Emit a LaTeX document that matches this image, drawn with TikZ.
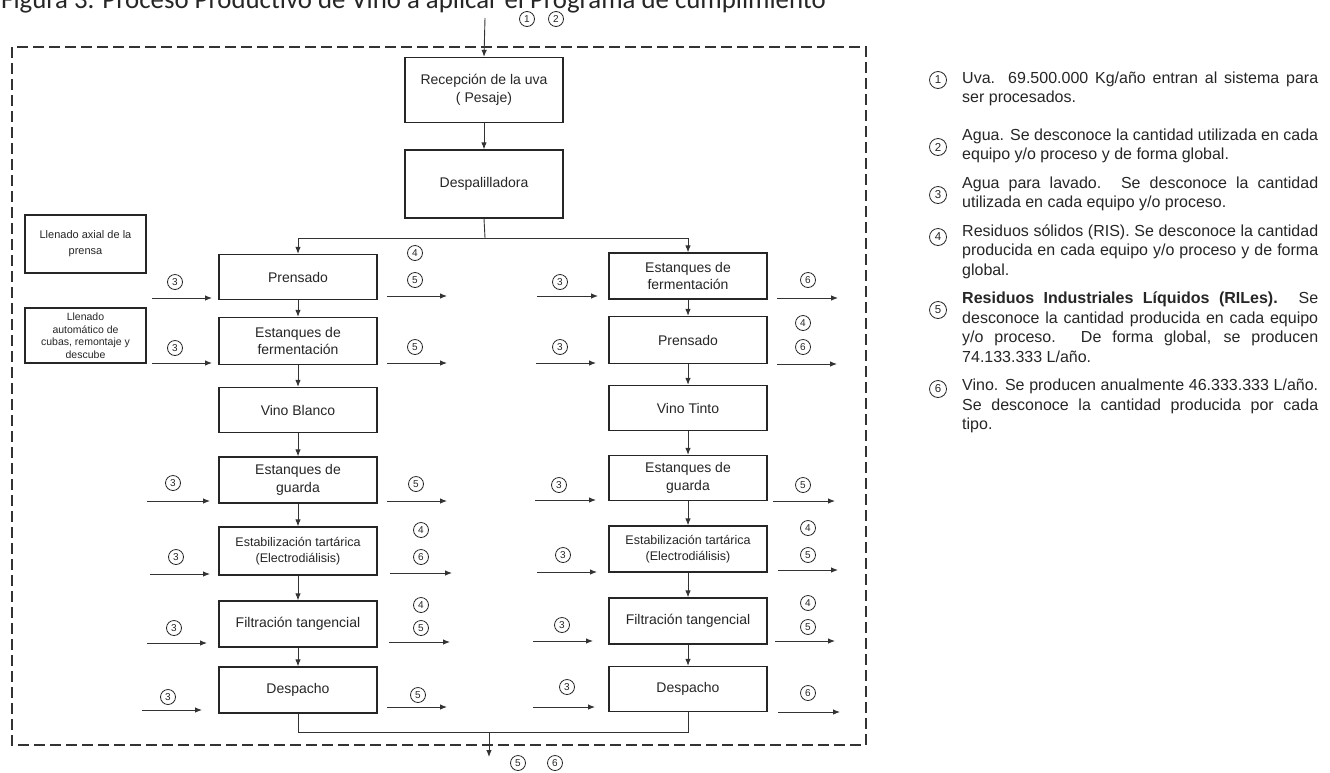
\documentclass[tikz,border=0pt]{standalone}
\usepackage{fontspec}
\setmainfont{Liberation Sans}
\newfontfamily\titlefont{Carlito}
\usetikzlibrary{arrows.meta}
\begin{document}
\begin{tikzpicture}[x=1pt,y=-1pt,
  box/.style={draw=black!85,line width=1.3pt,minimum width=158pt,align=center,inner sep=2pt,font=\fontsize{14}{17.5}\selectfont,text=black!85},
  sidebox/.style={draw=black!85,line width=1.3pt,minimum width=121pt,align=center,inner sep=2pt,text=black!85},
  num/.style={circle,draw=black!85,line width=0.8pt,inner sep=0pt,minimum size=15pt,font=\fontsize{10}{10}\selectfont,text=black!85},
  lnum/.style={num,minimum size=17pt,font=\fontsize{11.5}{12}\selectfont},
  flow/.style={draw=black!80,line width=0.9pt},
  arr/.style={flow,-{Latex[length=7pt,width=5.5pt]}},
  leg/.style={anchor=north west,inner sep=0pt,text width=356pt,align=justify,font=\fontsize{16}{19.5}\selectfont,text=black!85},
]
\useasboundingbox[fill=white] (0,0) rectangle (1330,772);

% title (cut at the top in the reference)
\node[anchor=base west,inner sep=0pt,font=\titlefont\fontsize{26.8}{27}\selectfont,text=black!85] (title) at (1,8) {Figura 3. Proceso Productivo de Vino a aplicar el Programa de cumplimiento};

% dashed system boundary
\draw[black!80,line width=1.3pt,dash pattern=on 11pt off 5pt] (12,47) rectangle (866,745);

% main boxes
\node[box,minimum height=65pt] (rec) at (484,90) {Recepción de la uva\\( Pesaje)};
\node[box,minimum height=68pt] (desp) at (484,184) {Despalilladora};

\node[box,minimum height=45pt] (prL) at (298,277) {Prensado};
\node[box,minimum height=47pt] (feL) at (298,341) {Estanques de\\fermentación};
\node[box,minimum height=45pt] (vbL) at (298,410) {Vino Blanco};
\node[box,minimum height=46pt] (guL) at (298,480) {Estanques de\\guarda};
\node[box,minimum height=48pt,font=\fontsize{12.5}{16}\selectfont] (esL) at (298,551) {Estabilización tartárica\\(Electrodiálisis)};
\node[box,minimum height=46pt] (fiL) at (298,624) {Filtración tangencial};
\node[box,minimum height=46pt] (deL) at (298,690) {Despacho};

\node[box,minimum height=46pt] (feR) at (688,276) {Estanques de\\fermentación};
\node[box,minimum height=47pt] (prR) at (688,340) {Prensado};
\node[box,minimum height=45pt] (vtR) at (688,408) {Vino Tinto};
\node[box,minimum height=45pt] (guR) at (688,478) {Estanques de\\guarda};
\node[box,minimum height=46pt,font=\fontsize{12.5}{16}\selectfont] (esR) at (688,549) {Estabilización tartárica\\(Electrodiálisis)};
\node[box,minimum height=46pt] (fiR) at (688,621) {Filtración tangencial};
\node[box,minimum height=45pt] (deR) at (688,689) {Despacho};

% side boxes
\node[sidebox,minimum height=58pt,font=\fontsize{11}{16}\selectfont] (axL) at (85.5,244) {Llenado axial de la\\prensa};
\node[sidebox,minimum height=55pt,font=\fontsize{10.5}{12.5}\selectfont] (auL) at (85.5,335.5) {Llenado\\automático de\\cubas, remontaje y\\descube};

% main flow
\coordinate (in) at (485,18);
\draw[arr] (in) -- (rec.north);
\draw[arr] (rec) -- (desp);
\coordinate (split) at (485,238);
\draw[flow] (desp.south) -- (split);
\draw[arr] (split) -| (prL.north);
\draw[arr] (split) -| (feR.north);
\foreach \a/\b in {prL/feL,feL/vbL,vbL/guL,guL/esL,esL/fiL,fiL/deL,feR/prR,prR/vtR,vtR/guR,guR/esR,esR/fiR,fiR/deR}
  \draw[arr] (\a) -- (\b);
\coordinate (jL) at (298,732);
\coordinate (jR) at (688,732);
\draw[flow] (deL.south) -- (jL) -- (jR) -- (deR.south);
\coordinate (ob) at (489,732);
\coordinate (oe) at (489,757);
\draw[arr] (ob) -- (oe);

% side arrows (inputs and outputs)
\foreach \nm/\xa/\xb/\y in {
  iL1/152/212/298, iL2/152/212/363, iL3/147/210/501, iL4/150/210/574, iL5/147/207/643, iL6/142/202/710,
  oL1/387/447/296, oL2/387/447/363, oL3/387/447/501, oL4/390/452/573, oL5/389/450/642, oL6/387/447/707,
  iR1/537/598/296, iR2/536/596/363, iR3/535/596/500, iR4/537/597/572, iR5/533/593/641, iR6/533/595/707,
  oR1/777/838/298, oR2/777/837/364, oR3/773/835/501, oR4/778/838/570, oR5/775/835/641, oR6/778/840/712}
{
  \coordinate (\nm a) at (\xa,\y);
  \coordinate (\nm b) at (\xb,\y);
  \draw[arr] (\nm a) -- (\nm b);
}

% circled numbers in the diagram
\foreach \nm/\x/\y/\t in {
  t1/527/19/1, t2/556/19/2,
  cL1/175/282/3, cL2/175/348/3, cL3/173/483/3, cL4/176/557/3, cL5/174/628/3, cL6/168/697/3,
  dL1/415/253/4, dL1b/415/280/5, dL2/415/347/5, dL3/416/484/5, dL4/421/530/4, dL4b/421/557/6,
  dL5/421/605/4, dL5b/421/628/5, dL6/418/695/5,
  cR1/560/282/3, cR2/560/347/3, cR3/559/485/3, cR4/563/555/3, cR5/562/625/3, cR6/567/687/3,
  dR1/808/280/6, dR2/803/323/4, dR2b/803/347/6, dR3/803/485/5, dR4/808/528/4, dR4b/808/555/5,
  dR5/808/603/4, dR5b/808/627/5, dR6/808/693/6,
  b1/518/763/5, b2/555/763/6}
  \node[num] (\nm) at (\x,\y) {\t};

% legend
\node[lnum] (l1) at (938,80) {1};
\node[lnum] (l2) at (938,147) {2};
\node[lnum] (l3) at (938,195) {3};
\node[lnum] (l4) at (938,237) {4};
\node[lnum] (l5) at (938,310) {5};
\node[lnum] (l6) at (938,389) {6};
\node[leg] (t1x) at (962,71.35) {Uva. 69.500.000 Kg/año entran al sistema para\linebreak ser procesados.};
\node[leg] (t2x) at (962,128.35) {Agua. Se desconoce la cantidad utilizada en cada\linebreak equipo y/o proceso y de forma global.};
\node[leg] (t3x) at (962,176.35) {Agua para lavado. Se desconoce la cantidad\linebreak utilizada en cada equipo y/o proceso.};
\node[leg] (t4x) at (962,224.35) {Residuos sólidos (RIS). Se desconoce la cantidad\linebreak producida en cada equipo y/o proceso y de forma\linebreak global.};
\node[leg] (t5x) at (962,291.85) {\textbf{Residuos Industriales Líquidos (RILes).} Se\linebreak desconoce la cantidad producida en cada equipo\linebreak y/o proceso. De forma global, se producen\linebreak 74.133.333 L/año.};
\node[leg] (t6x) at (962,378.85) {Vino. Se producen anualmente 46.333.333 L/año.\linebreak Se desconoce la cantidad producida por cada\linebreak tipo.};
\end{tikzpicture}
\end{document}
